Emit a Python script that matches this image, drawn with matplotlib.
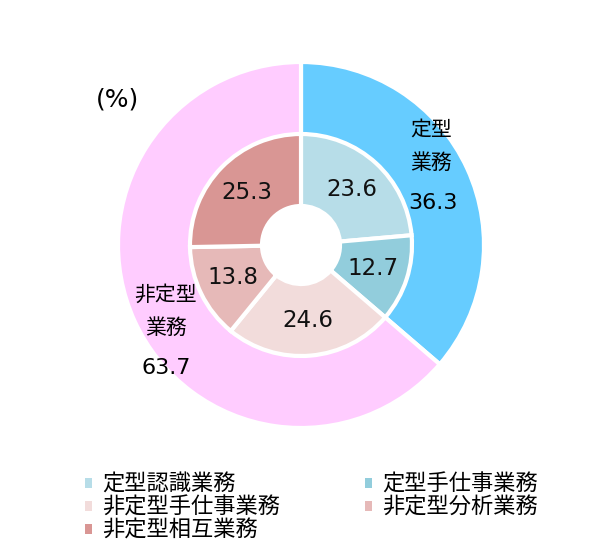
import matplotlib.pyplot as plt
from matplotlib.patches import Patch, Circle

plt.rcParams['font.family'] = ['Noto Sans CJK JP', 'DejaVu Sans']

# outer ring
outer_labels = [['定型', '業務'], ['非定型', '業務']]
outer_values = [36.3, 63.7]
outer_colors = ['#66CCFF', '#FFCCFF']

# inner ring
inner_labels = ['定型認識業務', '定型手仕事業務', '非定型手仕事業務', '非定型分析業務', '非定型相互業務']
inner_values = [23.6, 12.7, 24.6, 13.8, 25.3]
inner_colors = ['#B7DDE8', '#92CDDC', '#F2DCDB', '#E6B9B8', '#D99694']

W, H = 600, 556
fig = plt.figure(figsize=(W / 100, H / 100), dpi=100)
ax = fig.add_axes([0, 0, 1, 1])

cx, cy = 301, H - 245
R_out, R_in, R_hole = 183, 111, 39

ax.pie(outer_values, radius=R_out, center=(cx, cy), colors=outer_colors,
       startangle=90, counterclock=False,
       wedgeprops=dict(edgecolor='white', linewidth=3))
ax.pie(inner_values, radius=R_in, center=(cx, cy), colors=inner_colors,
       startangle=90, counterclock=False,
       wedgeprops=dict(width=R_in - R_hole, edgecolor='white', linewidth=3),
       labels=[f'{v}' for v in inner_values], labeldistance=0.68,
       textprops=dict(fontsize=16.5, family='DejaVu Sans', color='#111111',
                      ha='center', va='center'))
ax.add_patch(Circle((cx, cy), R_hole, facecolor='white', edgecolor='white', zorder=5))
ax.set_xlim(0, W)
ax.set_ylim(0, H)
ax.set_aspect('equal')
ax.axis('off')

# outer ring labels
ax.text(431, H - 130, outer_labels[0][0], fontsize=15, ha='center', va='center')
ax.text(431, H - 163, outer_labels[0][1], fontsize=15, ha='center', va='center')
ax.text(433, H - 203, f'{outer_values[0]}', fontsize=16, family='DejaVu Sans', ha='center', va='center')
ax.text(166, H - 295, outer_labels[1][0], fontsize=15, ha='center', va='center')
ax.text(166, H - 328, outer_labels[1][1], fontsize=15, ha='center', va='center')
ax.text(166, H - 368, f'{outer_values[1]}', fontsize=16, family='DejaVu Sans', ha='center', va='center')

ax.text(117, H - 100, '(%)', fontsize=18, family='DejaVu Sans', ha='center', va='center')

handles = [Patch(facecolor=c, edgecolor='none') for c in inner_colors]
order = [0, 2, 4, 1, 3]
fig.legend([handles[i] for i in order], [inner_labels[i] for i in order],
           ncol=2, loc='upper left', bbox_to_anchor=(85 / W, 1 - 473 / H),
           frameon=False, fontsize=16, handlelength=0.33, handleheight=0.33,
           handletextpad=0.45, labelspacing=0.0, columnspacing=3.8,
           borderpad=0, borderaxespad=0)

fig.savefig('out.png', dpi=100, facecolor='white')
